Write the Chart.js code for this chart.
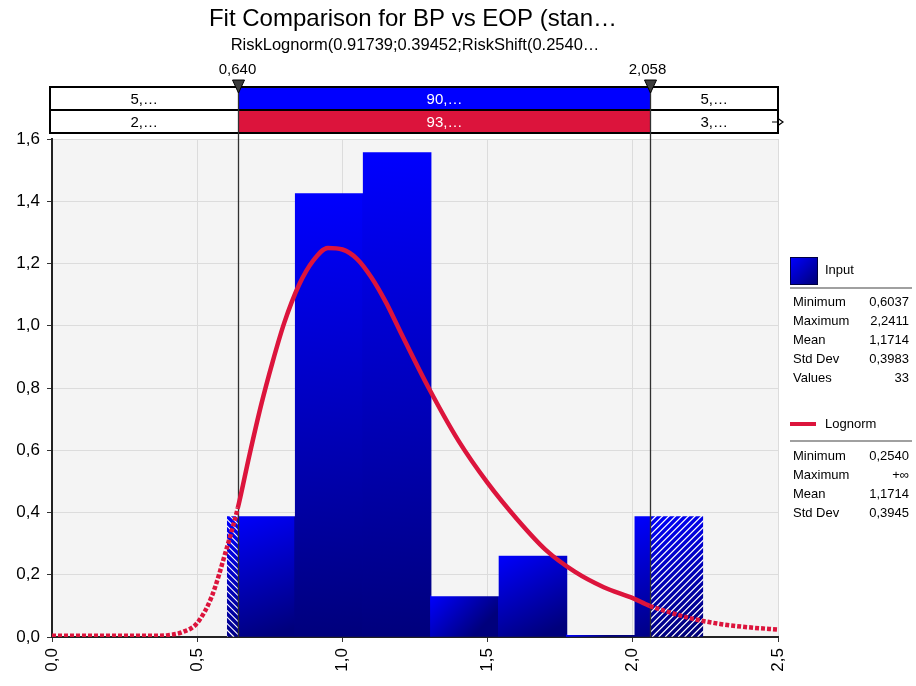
<!DOCTYPE html>
<html>
<head>
<meta charset="utf-8">
<script src="https://cdn.jsdelivr.net/npm/chart.js@4.4.1/dist/chart.umd.min.js"></script>
<style>
  html, body { margin: 0; padding: 0; background: #fff; }
  #wrap { width: 916px; height: 686px; }
</style>
</head>
<body>
<div id="wrap"><canvas id="fitChart" width="916" height="686"></canvas></div>
<script>
// histogram of the input (density per bin)
const binEdges = [0.6037, 0.8376, 1.0715, 1.3054, 1.5393, 1.7732, 2.0071, 2.2411];
const binDensity = [0.387, 1.425, 1.556, 0.130, 0.260, 0.005, 0.387];

// fitted lognormal density
const curveX = [0, 0.1, 0.2, 0.3, 0.36, 0.4, 0.45, 0.5, 0.55, 0.6, 0.64, 0.68, 0.72, 0.76, 0.8, 0.85, 0.9, 0.95,
  1.0, 1.05, 1.1, 1.15, 1.2, 1.3, 1.4, 1.5, 1.6, 1.7, 1.8, 1.9, 2.0, 2.058, 2.1, 2.2, 2.3, 2.4, 2.5];
const curveY = [0.004, 0.004, 0.004, 0.004, 0.004, 0.006, 0.016, 0.045, 0.13, 0.28, 0.415, 0.585, 0.745, 0.885, 1.01, 1.13, 1.21, 1.25,
  1.245, 1.215, 1.155, 1.075, 0.98, 0.795, 0.63, 0.495, 0.38, 0.28, 0.21, 0.16, 0.125, 0.10, 0.087, 0.06, 0.042, 0.031, 0.024];

const xTicks = [0, 0.5, 1.0, 1.5, 2.0, 2.5];
const yTicks = [0, 0.2, 0.4, 0.6, 0.8, 1.0, 1.2, 1.4, 1.6];

const markerLow = 0.640;
const markerHigh = 2.058;
const markerLabels = ['0,640', '2,058'];
const bandInput = ['5,…', '90,…', '5,…'];
const bandFit = ['2,…', '93,…', '3,…'];

const inputStats = [['Minimum', '0,6037'], ['Maximum', '2,2411'], ['Mean', '1,1714'], ['Std Dev', '0,3983'], ['Values', '33']];
const fitStats = [['Minimum', '0,2540'], ['Maximum', '+∞'], ['Mean', '1,1714'], ['Std Dev', '0,3945']];

const FONT = '"Liberation Sans", Arial, sans-serif';
const RED = '#dc143c';
const BLUE = '#0000ff';

const virgula = v => v.toFixed(1).replace('.', ',');

// one canvas-sized pattern with every bar's gradient plus the hatched tails
function barFill(context) {
  const chart = context.chart;
  const area = chart.chartArea;
  if (!area) return BLUE;
  const key = [area.left, area.top, area.right, area.bottom].join(',');
  if (chart.$barFill && chart.$barFillKey === key) return chart.$barFill;

  const xs = chart.scales.x, ys = chart.scales.y;
  const off = document.createElement('canvas');
  off.width = chart.width;
  off.height = chart.height;
  const g = off.getContext('2d');
  const base = ys.getPixelForValue(0);

  for (let i = 0; i < binDensity.length; i++) {
    const l = xs.getPixelForValue(binEdges[i]) - 1;
    const r = xs.getPixelForValue(binEdges[i + 1]) + 1;
    const t = ys.getPixelForValue(binDensity[i]) - 1;
    const grad = g.createLinearGradient(l, t, l + (r - l) * 0.6, base);
    grad.addColorStop(0, '#0000ff');
    grad.addColorStop(1, '#00007c');
    g.fillStyle = grad;
    g.fillRect(l, t, r - l, base - t + 2);
  }

  const top = area.top, h = base - top;
  const lowPx = xs.getPixelForValue(markerLow);
  const highPx = xs.getPixelForValue(markerHigh);
  g.strokeStyle = '#ffffff';
  g.lineWidth = 1.2;

  g.save();
  g.beginPath();
  g.rect(0, top, lowPx, h);
  g.clip();
  g.beginPath();
  for (let s = -h; s < lowPx + h; s += 6.5) {
    g.moveTo(s, top);
    g.lineTo(s + h, top + h);
  }
  g.stroke();
  g.restore();

  g.save();
  g.beginPath();
  g.rect(highPx + 1, top, chart.width - highPx, h);
  g.clip();
  g.beginPath();
  for (let s = highPx - h; s < chart.width + h; s += 6.5) {
    g.moveTo(s, top + h);
    g.lineTo(s + h, top);
  }
  g.stroke();
  g.restore();

  chart.$barFill = chart.ctx.createPattern(off, 'no-repeat');
  chart.$barFillKey = key;
  return chart.$barFill;
}

const plotBackground = {
  id: 'plotBackground',
  beforeDraw(chart) {
    const { ctx, chartArea: a } = chart;
    ctx.save();
    ctx.fillStyle = '#f4f4f4';
    ctx.fillRect(a.left, a.top, a.right - a.left, a.bottom - a.top);
    ctx.restore();
  }
};

// vertical delimiter lines, drawn over the bars and under the curve
const delimiters = {
  id: 'delimiters',
  afterDatasetDraw(chart, args) {
    if (args.meta.type !== 'bar') return;
    const { ctx, chartArea: a, scales: { x } } = chart;
    ctx.save();
    ctx.strokeStyle = '#303030';
    ctx.lineWidth = 1.3;
    [markerLow, markerHigh].forEach(v => {
      const px = Math.round(x.getPixelForValue(v)) + 0.5;
      ctx.beginPath();
      ctx.moveTo(px, a.top);
      ctx.lineTo(px, a.bottom);
      ctx.stroke();
    });
    ctx.restore();
  }
};

const header = {
  id: 'header',
  afterDraw(chart) {
    const { ctx, chartArea: a, scales: { x } } = chart;
    const lowPx = Math.round(x.getPixelForValue(markerLow)) + 0.5;
    const highPx = Math.round(x.getPixelForValue(markerHigh)) + 0.5;
    const left = 50, right = 778;
    const r1 = 87, r2 = 110, r3 = 133;

    ctx.save();
    ctx.textAlign = 'center';
    ctx.textBaseline = 'middle';
    ctx.fillStyle = '#000';
    ctx.font = '24px ' + FONT;
    ctx.fillText('Fit Comparison for BP vs EOP (stan…', 413, 19);
    ctx.font = '16.5px ' + FONT;
    ctx.fillText('RiskLognorm(0.91739;0.39452;RiskShift(0.2540…', 415, 45);

    // band rows
    ctx.fillStyle = '#fff';
    ctx.fillRect(left, r1, right - left, r3 - r1);
    ctx.fillStyle = BLUE;
    ctx.fillRect(lowPx, r1, highPx - lowPx, r2 - r1);
    ctx.fillStyle = RED;
    ctx.fillRect(lowPx, r2, highPx - lowPx, r3 - r2);

    ctx.strokeStyle = '#000';
    ctx.lineWidth = 2;
    ctx.strokeRect(left, r1, right - left, r3 - r1);
    ctx.beginPath();
    ctx.moveTo(left, r2);
    ctx.lineTo(right, r2);
    ctx.stroke();
    ctx.strokeStyle = '#303030';
    ctx.lineWidth = 1.3;
    ctx.beginPath();
    [lowPx, highPx].forEach(px => {
      ctx.moveTo(px, r1);
      ctx.lineTo(px, a.top);
    });
    ctx.stroke();

    const centers = [(left + lowPx) / 2, (lowPx + highPx) / 2, (highPx + right) / 2];
    ctx.font = '15px ' + FONT;
    [[bandInput, (r1 + r2) / 2], [bandFit, (r2 + r3) / 2]].forEach(([texts, cy]) => {
      texts.forEach((t, i) => {
        ctx.fillStyle = i === 1 ? '#fff' : '#000';
        ctx.fillText(t, centers[i], cy + 1);
      });
    });

    // marker labels and triangles
    ctx.fillStyle = '#000';
    ctx.fillText(markerLabels[0], lowPx - 1, 70);
    ctx.fillText(markerLabels[1], highPx - 3, 70);
    [lowPx, highPx].forEach(px => {
      ctx.beginPath();
      ctx.moveTo(px - 6, 80);
      ctx.lineTo(px + 6, 80);
      ctx.lineTo(px, 93);
      ctx.closePath();
      ctx.fillStyle = '#3c3c3c';
      ctx.fill();
      ctx.strokeStyle = '#000';
      ctx.lineWidth = 1;
      ctx.stroke();
    });

    // small handle at the end of the second row
    ctx.strokeStyle = '#000';
    ctx.lineWidth = 1.2;
    ctx.beginPath();
    ctx.moveTo(772, 122);
    ctx.lineTo(778, 122);
    ctx.moveTo(778, 118.5);
    ctx.lineTo(783, 122);
    ctx.lineTo(778, 125.5);
    ctx.closePath();
    ctx.stroke();
    ctx.restore();
  }
};

const statsPanel = {
  id: 'statsPanel',
  afterDraw(chart) {
    const ctx = chart.ctx;
    const lx = 790, rx = 912;
    ctx.save();
    ctx.textBaseline = 'middle';
    ctx.font = '13px ' + FONT;

    const sw = ctx.createLinearGradient(791, 258, 816, 283);
    sw.addColorStop(0, '#0000ff');
    sw.addColorStop(1, '#00007c');
    ctx.fillStyle = sw;
    ctx.fillRect(791, 258, 26, 26);
    ctx.strokeStyle = '#000040';
    ctx.lineWidth = 1;
    ctx.strokeRect(790.5, 257.5, 27, 27);
    ctx.fillStyle = '#000';
    ctx.fillText('Input', 825, 270);

    ctx.strokeStyle = RED;
    ctx.lineWidth = 4;
    ctx.beginPath();
    ctx.moveTo(790, 424);
    ctx.lineTo(816, 424);
    ctx.stroke();
    ctx.fillText('Lognorm', 825, 424);

    ctx.strokeStyle = '#a0a0a0';
    ctx.lineWidth = 2;
    ctx.beginPath();
    ctx.moveTo(lx, 288);
    ctx.lineTo(rx, 288);
    ctx.moveTo(lx, 441);
    ctx.lineTo(rx, 441);
    ctx.stroke();

    const rows = (list, y0) => list.forEach(([k, v], i) => {
      const y = y0 + i * 19;
      ctx.textAlign = 'left';
      ctx.fillText(k, 793, y);
      ctx.textAlign = 'right';
      ctx.fillText(v, 909, y);
    });
    rows(inputStats, 302);
    rows(fitStats, 456);
    ctx.restore();
  }
};

const binCenters = binDensity.map((v, i) => ({ x: (binEdges[i] + binEdges[i + 1]) / 2, y: v }));
const curvePoints = curveX.map((v, i) => ({ x: v, y: curveY[i] }));
const outside = c => c.p1.parsed.x <= markerLow + 1e-9 || c.p0.parsed.x >= markerHigh - 1e-9;

new Chart(document.getElementById('fitChart'), {
  data: {
    datasets: [
      {
        type: 'line',
        label: 'Lognorm',
        data: curvePoints,
        borderColor: RED,
        borderWidth: 4.5,
        borderCapStyle: 'butt',
        pointRadius: 0,
        cubicInterpolationMode: 'monotone',
        order: 0,
        segment: {
          borderDash: c => outside(c) ? [4, 2] : undefined
        }
      },
      {
        type: 'bar',
        label: 'Input',
        data: binCenters,
        backgroundColor: barFill,
        borderWidth: 0,
        barPercentage: 1,
        categoryPercentage: 1,
        order: 1
      }
    ]
  },
  options: {
    responsive: false,
    animation: false,
    devicePixelRatio: 1,
    layout: { padding: { top: 139, right: 138, left: 0, bottom: 0 } },
    plugins: {
      legend: { display: false },
      tooltip: { enabled: false }
    },
    scales: {
      x: {
        type: 'linear',
        min: 0,
        max: 2.5,
        offset: false,
        afterBuildTicks: s => { s.ticks = xTicks.map(v => ({ value: v })); },
        afterFit: s => { s.height = 49; },
        ticks: {
          minRotation: 90,
          maxRotation: 90,
          padding: 6,
          color: '#000',
          font: { family: FONT, size: 17 },
          callback: v => virgula(v)
        },
        grid: { offset: false, color: '#dcdcdc', tickColor: '#333', tickLength: 5 },
        border: { color: '#222', width: 2 }
      },
      y: {
        min: 0,
        max: 1.6,
        afterBuildTicks: s => { s.ticks = yTicks.map(v => ({ value: v })); },
        afterFit: s => { s.width = 52; },
        ticks: {
          padding: 7,
          color: '#000',
          font: { family: FONT, size: 17 },
          callback: v => virgula(v)
        },
        grid: { color: '#dcdcdc', tickColor: '#333', tickLength: 5 },
        border: { color: '#222', width: 2 }
      }
    }
  },
  plugins: [plotBackground, delimiters, header, statsPanel]
});
</script>
</body>
</html>
